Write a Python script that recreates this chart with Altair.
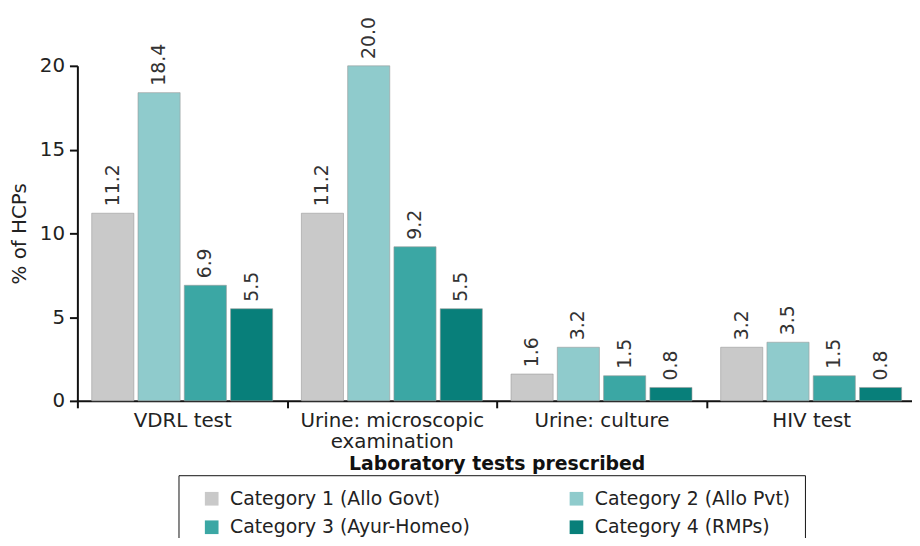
import altair as alt
import pandas as pd

tests = ["VDRL test", "Urine: microscopic examination", "Urine: culture", "HIV test"]
categories = ["Category 1 (Allo Govt)", "Category 2 (Allo Pvt)",
              "Category 3 (Ayur-Homeo)", "Category 4 (RMPs)"]
cat1 = [11.2, 11.2, 1.6, 3.2]
cat2 = [18.4, 20.0, 3.2, 3.5]
cat3 = [6.9, 9.2, 1.5, 1.5]
cat4 = [5.5, 5.5, 0.8, 0.8]
colors = ["#c9c9c9", "#8fcbcc", "#3ba7a4", "#087f7a"]

rows = []
for cat, vals in zip(categories, [cat1, cat2, cat3, cat4]):
    for t, v in zip(tests, vals):
        rows.append({"test": t, "category": cat, "value": v})
df = pd.DataFrame(rows)

FONT = "DejaVu Sans"

x = alt.X("test:N", sort=tests,
          scale=alt.Scale(paddingInner=0, paddingOuter=0, range=[0, 846]),
          axis=alt.Axis(title="Laboratory tests prescribed", labelAngle=0,
                        tickBand="extent", labelFontSize=20, labelColor="#222",
                        labelFont=FONT, titleFont=FONT, titleFontSize=19,
                        titleFontWeight="bold", titleColor="#111", labelLimit=400,
                        labelExpr="datum.value == 'Urine: microscopic examination' ? ['Urine: microscopic', 'examination'] : datum.value",
                        labelLineHeight=21, labelPadding=3, titlePadding=3,
                        domainColor="#111", domainWidth=2, tickColor="#111",
                        tickWidth=2, tickSize=7))
xo = alt.XOffset("category:N", sort=categories,
                 scale=alt.Scale(paddingInner=0.09, paddingOuter=0.31))
y = alt.Y("value:Q", scale=alt.Scale(domain=[0, 20]),
          axis=alt.Axis(title="% of HCPs", values=[0, 5, 10, 15, 20], grid=False,
                        labelFontSize=20, labelFont=FONT, labelColor="#222",
                        titleFont=FONT, titleFontSize=20, titleFontWeight="normal",
                        titleColor="#222", titlePadding=10,
                        domainColor="#111", domainWidth=2, tickColor="#111",
                        tickWidth=2, tickSize=8, labelPadding=5))

bars = alt.Chart(df).mark_bar(stroke="#9a9a9a", strokeWidth=0.6).encode(
    x=x, xOffset=xo, y=y,
    color=alt.Color("category:N", sort=categories,
                    scale=alt.Scale(domain=categories, range=colors),
                    legend=alt.Legend(title=None, orient="none", legendX=102, legendY=413,
                                      values=[categories[0], categories[2],
                                              categories[1], categories[3]],
                                      columns=2, columnPadding=88, rowPadding=9,
                                      symbolType="square", symbolSize=190,
                                      symbolStrokeWidth=0, symbolOffset=10,
                                      labelFontSize=19,
                                      labelFont=FONT, labelColor="#222", labelOffset=9,
                                      labelLimit=400,
                                      padding=14, strokeColor="#111",
                                      fillColor="white"))
)

labels = alt.Chart(df).mark_text(angle=270, align="left", baseline="middle",
                                 dx=7, fontSize=19, font=FONT, color="#333").encode(
    x=alt.X("test:N", sort=tests), xOffset=xo, y="value:Q",
    text=alt.Text("value:Q", format=".1f"))

chart = alt.layer(bars, labels).properties(
    width=842, height=338,
    autosize=alt.AutoSizeParams(type="none"),
    padding={"left": 70, "top": 56, "right": 0, "bottom": 136},
).configure_view(stroke=None)

chart.save("out.html", embed_options={"renderer": "svg", "actions": False})
